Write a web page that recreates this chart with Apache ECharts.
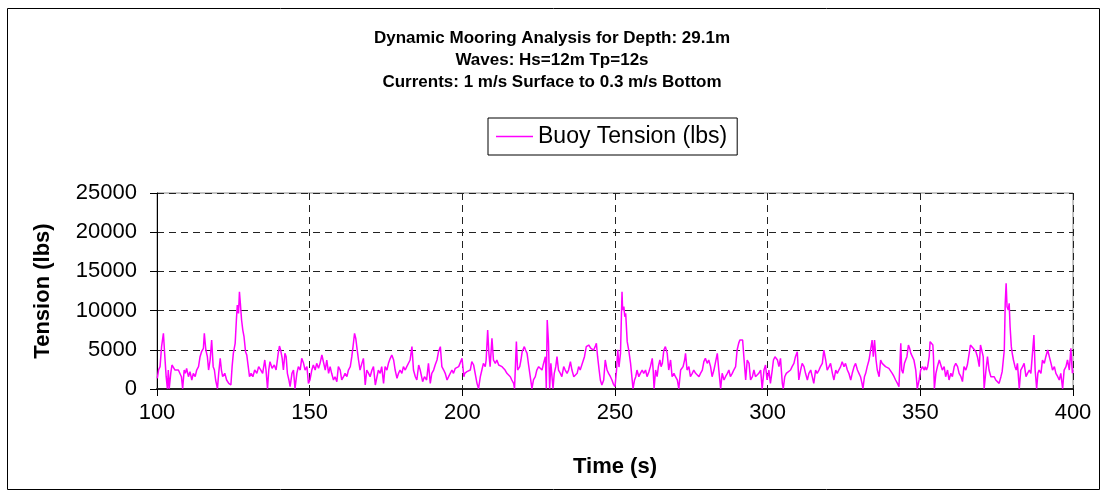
<!DOCTYPE html>
<html>
<head>
<meta charset="utf-8">
<title>Dynamic Mooring Analysis</title>
<script src="https://cdn.jsdelivr.net/npm/echarts@6/dist/echarts.min.js"></script>
<style>
  html, body { margin: 0; padding: 0; background: #fff; }
  #chart { width: 1104px; height: 497px; }
</style>
</head>
<body>
<div id="chart"></div>
<script>
// Время (с) и натяжение буя (lbs)
const timeS = [
  100.1,100.5,101.0,101.5,102.1,102.5,103.0,103.4,103.7,104.0,
  104.5,104.9,105.4,105.9,106.4,107.0,107.5,108.0,108.4,108.9,
  109.3,109.7,110.3,110.8,111.4,111.9,112.5,113.0,113.6,114.1,
  114.6,115.2,115.5,116.0,116.5,116.9,117.4,117.9,118.4,118.8,
  119.2,119.8,120.2,120.7,121.1,121.5,122.2,122.8,123.5,124.2,
  124.6,125.0,125.6,126.0,126.3,126.7,127.0,127.3,127.7,128.1,
  128.5,129.0,129.4,129.8,130.3,130.8,131.4,132.0,132.7,133.3,
  134.0,134.6,135.3,135.7,136.2,136.6,137.0,137.7,138.4,139.0,
  139.7,140.1,140.5,141.0,141.4,141.9,142.3,142.7,143.2,143.6,
  144.2,144.7,145.2,145.8,146.3,146.9,147.4,148.0,148.5,149.1,
  149.6,
  150.1,150.7,151.2,151.8,152.3,152.9,153.4,154.0,154.5,155.1,
  155.6,156.2,156.7,157.2,157.8,158.3,158.9,159.4,160.0,160.5,
  161.1,161.6,162.2,162.7,163.3,163.8,164.2,164.7,165.1,165.5,
  166.0,166.5,167.1,167.6,168.2,168.7,169.3,169.8,170.4,170.9,
  171.5,172.0,172.5,173.1,173.6,174.2,174.7,175.3,175.8,176.4,
  176.9,177.5,178.0,178.6,179.1,179.6,180.2,180.7,181.3,181.8,
  182.4,182.9,183.5,184.0,184.6,185.1,185.7,186.2,187.0,187.6,
  188.3,188.9,189.5,190.0,190.6,191.1,191.7,192.2,192.8,193.3,
  193.9,194.4,195.0,195.5,196.0,196.6,197.1,197.7,198.2,198.8,
  199.3,199.9,200.5,
  200.8,201.5,202.0,202.6,203.1,203.7,204.2,204.8,205.3,205.9,
  206.4,206.9,207.5,207.8,208.3,208.7,209.1,209.7,210.2,210.8,
  211.3,211.9,212.4,213.0,213.5,214.0,214.6,215.1,215.7,216.2,
  216.8,217.1,217.7,218.1,218.8,219.2,219.6,220.3,220.7,221.2,
  221.7,222.3,222.8,223.3,223.9,224.4,225.0,225.5,226.1,226.6,
  227.2,227.5,227.8,228.2,228.6,229.0,229.7,230.1,230.6,231.0,
  231.5,232.1,232.6,233.2,233.7,234.3,234.8,235.4,235.9,236.5,
  237.0,237.6,238.1,238.6,239.2,240.0,240.6,241.4,242.1,243.0,
  243.5,243.9,244.3,244.8,245.2,245.7,246.3,246.8,247.4,247.9,
  248.5,249.0,249.5,250.0,250.5,250.9,251.3,
  251.8,252.3,252.5,252.9,253.2,253.5,254.0,254.5,255.1,255.6,
  255.9,256.4,256.8,257.2,257.8,258.3,258.9,259.4,260.0,260.5,
  261.1,261.6,262.2,262.5,262.8,263.3,263.8,264.2,264.7,265.1,
  265.5,266.0,266.5,267.1,267.6,268.2,268.7,269.3,269.8,270.4,
  270.9,271.5,272.0,272.3,272.8,273.1,273.6,274.2,274.7,275.3,
  275.8,276.4,276.9,277.5,278.0,278.6,279.1,279.6,280.2,280.7,
  281.3,281.8,282.4,282.9,283.5,284.0,284.6,285.1,285.7,286.2,
  286.8,287.3,287.8,288.4,288.9,289.5,290.0,290.5,290.9,291.3,
  291.8,292.2,292.8,293.3,293.9,294.4,295.0,295.5,296.0,296.6,
  297.1,297.7,298.2,298.8,299.3,
  299.8,300.4,300.9,301.5,301.9,302.4,302.8,303.2,303.7,304.2,
  304.8,305.1,305.6,306.1,306.7,307.5,308.0,308.6,309.1,309.7,
  310.2,310.8,311.3,311.9,312.4,313.0,313.5,314.1,314.6,315.1,
  315.7,316.2,316.8,317.3,317.9,318.4,319.0,319.5,320.1,320.6,
  321.2,321.7,322.3,322.8,323.3,323.9,324.4,325.0,325.5,326.1,
  326.6,327.2,327.7,328.3,328.8,329.4,329.9,330.4,330.9,331.2,
  331.7,332.1,332.6,333.2,333.7,334.2,334.6,335.0,335.5,335.9,
  336.5,337.0,337.5,338.1,338.6,339.2,339.7,340.3,340.8,341.4,
  341.9,342.5,343.0,343.2,343.6,343.9,344.3,344.8,345.2,345.6,
  346.1,346.5,346.9,347.4,347.9,348.5,349.0,349.6,350.1,350.7,
  351.3,
  351.6,352.0,352.4,352.9,353.2,353.6,354.1,354.3,354.6,355.1,
  355.6,356.2,356.7,357.2,357.8,358.3,358.9,359.4,360.0,360.5,
  361.1,361.6,362.2,362.7,363.3,363.8,364.3,364.9,365.4,366.0,
  366.4,366.9,367.3,367.7,368.2,368.7,369.3,369.7,370.1,370.6,
  370.9,371.5,372.0,372.5,373.1,373.6,374.2,374.7,375.3,375.8,
  376.4,376.8,377.1,377.5,377.8,378.1,378.4,378.8,379.1,379.4,
  379.8,380.1,380.5,381.0,381.4,381.8,382.4,382.9,383.5,384.0,
  384.6,385.1,385.7,386.2,386.8,387.2,387.6,388.1,388.5,388.9,
  389.5,390.0,390.6,391.1,391.7,392.2,392.8,393.3,393.9,394.4,
  395.0,395.5,396.0,396.6,397.1,397.7,398.2,398.8,399.3,399.8,
  400.0
]

const tensionLbs = [
  1360,2420,2850,5400,7100,4550,1570,50,2420,50,
  2000,3060,3270,2420,2640,2420,2640,1570,50,2420,
  2000,2640,1570,2210,1150,2000,1570,2420,2850,4120,
  4760,5190,7100,4970,4120,2420,3700,6250,2850,2420,
  1150,50,2000,3910,2420,1570,2000,1150,720,510,
  2850,4550,5820,8800,10710,9650,12410,10920,8800,7520,
  6670,4760,4340,4120,1570,2000,1570,2420,2000,2850,
  2420,2000,3700,2420,50,2420,3490,2640,3060,2420,
  4550,5480,4970,3910,2420,4550,4120,2000,1150,300,
  2000,2420,50,2000,2850,2420,3910,3270,2420,2850,
  720,
  1150,2420,3060,2420,3270,2640,3270,4340,4120,2420,
  3700,2000,2850,2000,1150,1570,940,2850,2420,1150,
  1570,2000,1570,2420,2850,4120,5400,7100,6460,5190,
  3700,2420,3270,3910,510,2420,2000,1570,2420,2850,
  510,510,2420,2000,2850,720,2850,2420,3270,3910,
  4340,3700,2420,1360,2000,2420,2000,2850,2420,2850,
  3060,3700,5400,2420,1570,1150,3060,2420,940,1570,
  1150,3270,720,2000,2420,3060,3700,4760,5400,2850,
  2420,2000,1150,1570,1790,2420,2000,2640,2420,2850,
  3060,3910,1570,
  2000,2210,2000,2420,3490,3060,2850,720,50,1570,
  2420,3270,2850,3700,7520,4550,2850,6460,3700,3270,
  3700,3060,3270,2850,2640,2420,2000,2210,1570,1150,
  720,50,6040,2420,2850,3700,4760,5400,4970,4550,
  3060,2850,50,1150,1570,2420,2850,2640,2420,3270,
  4120,50,8800,6040,50,3270,50,2000,2850,4120,
  2420,2000,1570,2850,2420,2000,2420,3490,2420,1570,
  1790,2000,2850,2420,2640,4120,5400,5610,5190,4970,
  5400,5820,4120,2420,1150,510,1150,3700,2420,2000,
  1570,1150,600,300,2400,5000,2800,
  4550,12410,10070,10500,9220,9650,6040,4970,3270,3270,
  50,1150,1570,2420,1570,2000,2420,2000,2420,1570,
  2210,2850,3910,2420,50,2420,1570,2850,3700,2850,
  3270,4970,5400,4550,2420,3700,1570,2000,1570,1150,
  50,2420,2640,2850,3700,4550,2420,2850,1570,2000,
  2420,2000,1790,1570,2000,2420,3490,3910,3270,3700,
  2850,1570,2420,2420,4550,2420,50,2000,1150,1570,
  2000,2420,1570,2000,2420,2850,4970,5820,6250,6460,
  6250,4120,1150,3700,3270,1150,1570,2420,1570,1570,
  2000,2420,50,2420,3060,
  1150,2420,720,2420,3700,4120,3910,3700,2850,3910,
  720,50,1570,2000,2210,2420,2850,3270,4120,4760,
  1150,2420,3270,2850,2000,1150,2000,2420,1570,720,
  2420,2000,2420,2850,3270,4970,3700,2420,2850,3270,
  2000,1150,2420,2000,2420,2850,3490,2850,3270,2420,
  2000,1150,2000,2850,3270,2420,2000,1570,720,50,
  1570,2000,2850,3700,4970,6250,4120,6250,3700,2420,
  1570,3700,3270,3060,2850,2850,2640,2420,2000,1570,
  1150,720,300,50,5820,2420,2000,3270,3700,4120,
  5610,5190,4550,4760,3700,2420,50,1150,2420,2850,
  2420,
  2850,2420,2850,4120,6040,6040,5610,4120,50,2000,
  2850,3700,3910,2420,2850,1570,2420,1150,2000,1570,
  2850,3270,2850,2000,1570,940,2850,2420,3060,4550,
  5610,5820,5190,5400,4760,4120,2850,5610,5610,4120,
  50,2420,4120,2420,1570,1790,1570,1150,940,720,
  1570,2210,2000,4970,10920,13470,10500,10070,10920,7950,
  5400,4550,3700,2850,2420,3270,50,2420,2850,3270,
  1570,2000,2420,2000,2000,6890,2420,50,2000,2420,
  2000,3700,3270,4120,4970,4760,3270,2420,2850,2000,
  1570,1150,2000,50,2420,2850,3700,2420,5190,2000,
  2420
]

const xTicks = { min: 100, max: 400, step: 50 }
const yTicks = { min: 0, max: 25000, step: 5000 }

const titleLines = [
  'Dynamic Mooring Analysis for Depth: 29.1m',
  'Waves: Hs=12m Tp=12s',
  'Currents: 1 m/s Surface to 0.3 m/s Bottom',
]
const seriesName = 'Buoy Tension (lbs)'

const initChart = () => {
  if (timeS.length !== tensionLbs.length) {
    console.error('length mismatch', timeS.length, tensionLbs.length)
  }
  const points = timeS.map((t, i) => [t, tensionLbs[i]])

  const font = 'Liberation Sans, Arial, sans-serif'
  const gridLine = { show: true, lineStyle: { color: '#222', width: 1, type: [7, 5] } }

  const chart = echarts.init(document.getElementById('chart'), null, { renderer: 'canvas' })
  chart.setOption({
    animation: false,
    backgroundColor: '#fff',
    textStyle: { fontFamily: font, color: '#000' },
    title: {
      text: titleLines.join('\n'),
      left: 'center',
      top: 27,
      padding: 0,
      textStyle: { fontSize: 17, fontWeight: 'bold', lineHeight: 22, color: '#000', fontFamily: font },
    },
    legend: {
      data: [seriesName],
      left: 488,
      top: 118,
      orient: 'horizontal',
      icon: 'rect',
      itemWidth: 37,
      itemHeight: 1.5,
      padding: [7, 10, 7, 8],
      borderColor: '#000',
      borderWidth: 1,
      backgroundColor: '#fff',
      textStyle: { fontSize: 23, color: '#000', fontFamily: font },
    },
    grid: {
      left: 157,
      right: 31,
      top: 193,
      bottom: 108,
      show: true,
      borderColor: '#888',
      borderWidth: 1,
      containLabel: false,
    },
    xAxis: {
      type: 'value',
      min: xTicks.min,
      max: xTicks.max,
      interval: xTicks.step,
      name: 'Time (s)',
      nameLocation: 'middle',
      nameGap: 67,
      nameTextStyle: { fontSize: 22, fontWeight: 'bold', color: '#000' },
      axisLine: { show: true, onZero: false, lineStyle: { color: '#222', width: 2 } },
      axisTick: { show: true, inside: false, length: 7, lineStyle: { color: '#000' } },
      axisLabel: { fontSize: 22, color: '#000', margin: 13, formatter: (v) => String(v) },
      splitLine: gridLine,
    },
    yAxis: {
      type: 'value',
      min: yTicks.min,
      max: yTicks.max,
      interval: yTicks.step,
      name: 'Tension (lbs)',
      nameLocation: 'middle',
      nameRotate: 90,
      nameGap: 103,
      nameTextStyle: { fontSize: 22, fontWeight: 'bold', color: '#000' },
      axisLine: { show: true, lineStyle: { color: '#000', width: 1 } },
      axisTick: { show: true, inside: false, length: 7, lineStyle: { color: '#000' } },
      axisLabel: { fontSize: 22, color: '#000', margin: 20, formatter: (v) => String(v) },
      splitLine: gridLine,
    },
    graphic: [
      {
        type: 'rect',
        silent: true,
        shape: { x: 7.5, y: 8.5, width: 1092, height: 481 },
        style: { fill: 'none', stroke: '#000', lineWidth: 1 },
      },
    ],
    series: [
      {
        name: seriesName,
        type: 'line',
        data: points,
        showSymbol: false,
        symbol: 'none',
        smooth: false,
        lineStyle: { color: '#FF00FF', width: 1.5 },
        itemStyle: { color: '#FF00FF' },
      },
    ],
  })
}

document.addEventListener('DOMContentLoaded', () => {
  initChart()
})
</script>
</body>
</html>
